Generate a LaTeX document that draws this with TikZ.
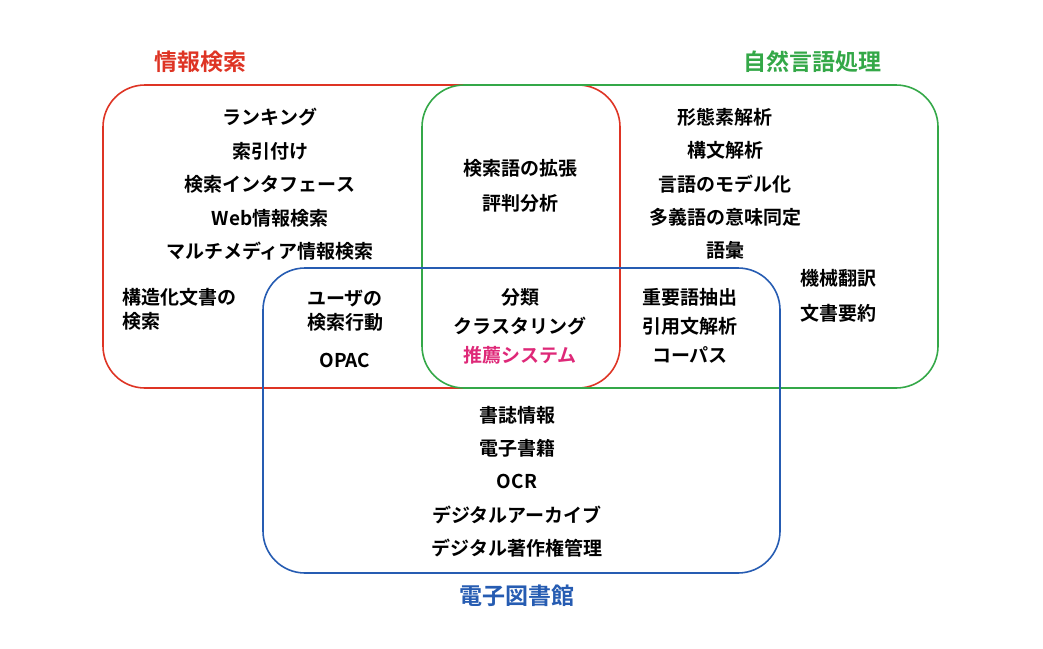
\documentclass[tikz,border=0pt]{standalone}
\usepackage{fontspec}
\newfontfamily\jp{Noto Sans CJK JP Bold}
\definecolor{irred}{RGB}{222,52,36}
\definecolor{nlpgreen}{RGB}{52,168,72}
\definecolor{dlblue}{RGB}{38,92,178}
\definecolor{recpink}{RGB}{222,40,120}
\begin{document}
\begin{tikzpicture}[x=1pt,y=-1pt, font=\jp\fontsize{19}{22}\selectfont,
		area/.style={line width=1.6pt, rounded corners=42pt},
		title/.style={font=\jp\fontsize{23}{26}\selectfont},
		item/.style={inner sep=0pt, align=center}]
		\useasboundingbox (0,0) rectangle (1043,648);
		% three areas
		\draw[area, irred] (103,85) rectangle (620,388);
		\draw[area, nlpgreen] (422,85) rectangle (938,388);
		\draw[area, dlblue] (263,268) rectangle (780,573);
		\node[title, text=irred] (ir) at (200,62) {情報検索};
		\node[title, text=nlpgreen] (nlp) at (812,62) {自然言語処理};
		\node[title, text=dlblue] (dl) at (517,596) {電子図書館};
		% information retrieval only
		\foreach \t [count=\i] in {ランキング,索引付け,検索インタフェース,Web情報検索,マルチメディア情報検索}
			\node[item] (ir\i) at (270,84+\i*33.5) {\t};
		\node[item, align=left, anchor=west] (irs) at (122,309) {構造化文書の\\[2pt]検索};
		% IR and DL
		\node[item] (irdl) at (345,311) {ユーザの\\[2pt]検索行動};
		\node[item] (opac) at (345,360) {OPAC};
		% IR and NLP
		\node[item] (irn1) at (520,168) {検索語の拡張};
		\node[item] (irn2) at (520,203) {評判分析};
		% all three
		\node[item] (all1) at (520,297) {分類};
		\node[item] (all2) at (520,326) {クラスタリング};
		\node[item, text=recpink] (all3) at (520,355) {推薦システム};
		% NLP only
		\foreach \t [count=\i] in {形態素解析,構文解析,言語のモデル化,多義語の意味同定,語彙}
			\node[item] (nlp\i) at (725,84+\i*33.3) {\t};
		\node[item] (nlpa) at (838,278) {機械翻訳};
		\node[item] (nlpb) at (838,313) {文書要約};
		% NLP and DL
		\node[item] (nd1) at (690,297) {重要語抽出};
		\node[item] (nd2) at (690,326) {引用文解析};
		\node[item] (nd3) at (690,355) {コーパス};
		% DL only
		\foreach \t [count=\i] in {書誌情報,電子書籍,OCR,デジタルアーカイブ,デジタル著作権管理}
			\node[item] (dl\i) at (517,382+\i*33.2) {\t};
\end{tikzpicture}
\end{document}
